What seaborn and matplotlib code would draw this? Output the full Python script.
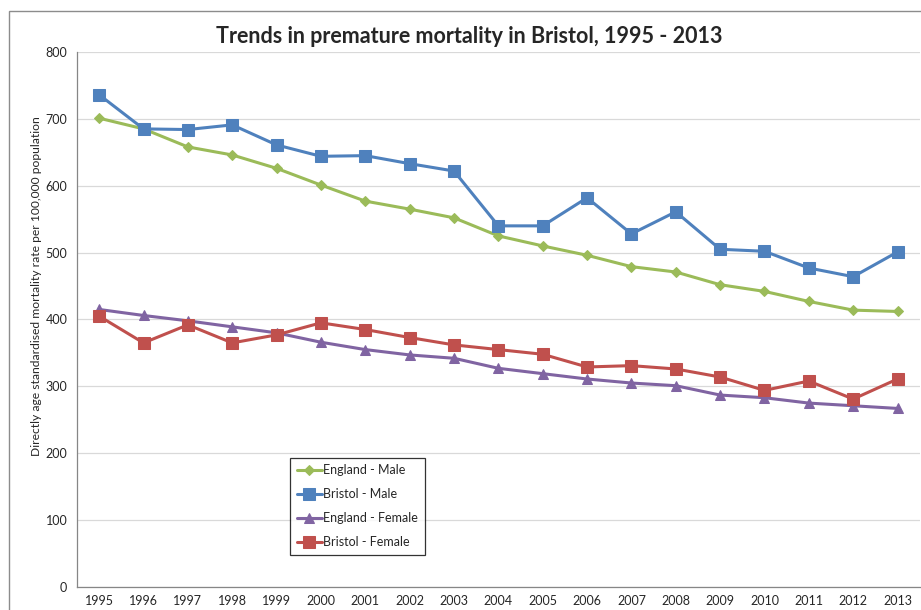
import matplotlib
matplotlib.use("Agg")
import matplotlib.pyplot as plt
import seaborn as sns
import pandas as pd
from matplotlib.patches import Rectangle

years = list(range(1995, 2014))
england_male = [701, 685, 658, 646, 626, 601, 577, 565, 552, 525,
                510, 496, 479, 471, 452, 442, 427, 414, 412]
bristol_male = [736, 685, 684, 691, 661, 644, 645, 633, 622, 540,
                540, 582, 528, 561, 505, 502, 477, 464, 501]
england_female = [415, 406, 398, 389, 380, 366, 355, 347, 342, 327,
                  319, 311, 305, 301, 287, 283, 275, 271, 267]
bristol_female = [405, 365, 392, 365, 377, 395, 385, 373, 362, 355,
                  348, 329, 331, 326, 314, 294, 308, 281, 311]
series_names = ["England - Male", "Bristol - Male", "England - Female", "Bristol - Female"]


def build_frame():
    rows = []
    for name, vals in zip(series_names,
                          [england_male, bristol_male, england_female, bristol_female]):
        for i, v in enumerate(vals):
            rows.append({"idx": i, "rate": v, "series": name})
    return pd.DataFrame(rows)


sns.set_style("white")
plt.rcParams["font.family"] = ["Lato", "DejaVu Sans"]

df = build_frame()
colors = {"England - Male": "#9BBB59", "Bristol - Male": "#4F81BD",
          "England - Female": "#8064A2", "Bristol - Female": "#C0504D"}
markers = {"England - Male": "D", "Bristol - Male": "s",
           "England - Female": "^", "Bristol - Female": "s"}
sizes = {"England - Male": 5.5, "Bristol - Male": 8, "England - Female": 7, "Bristol - Female": 8}

fig = plt.figure(figsize=(9.21, 6.1), dpi=100)
ax = fig.add_axes([0.0836, 0.0377, 0.915, 0.8771])

for name in series_names:
    sub = df[df["series"] == name]
    sns.lineplot(data=sub, x="idx", y="rate", ax=ax, color=colors[name],
                 marker=markers[name], markersize=sizes[name],
                 markeredgecolor=colors[name], linewidth=2.2, label=name)

ax.set_xlim(-0.5, 18.5)
ax.set_ylim(0, 800)
ax.set_yticks(range(0, 801, 100))
ax.set_xticks(range(len(years)))
ax.set_xticklabels([str(y) for y in years])
ax.set_xticks([i + 0.5 for i in range(-1, len(years))], minor=True)
ax.tick_params(axis="x", which="major", length=0, pad=6, labelsize=9)
ax.tick_params(axis="x", which="minor", length=4, color="#868686", width=0.8, direction="out")
ax.tick_params(axis="y", length=4, color="#868686", width=0.8, direction="out", labelsize=9, pad=3)
ax.yaxis.grid(True, color="#d9d9d9", linewidth=0.9)
ax.set_axisbelow(True)
for side in ("top", "right"):
    ax.spines[side].set_visible(False)
for side in ("left", "bottom"):
    ax.spines[side].set_color("#868686")
    ax.spines[side].set_linewidth(0.9)

ax.set_xlabel("")
ax.set_ylabel("Directly age standardised mortality rate per 100,000 population",
              fontsize=8.7)
ax.yaxis.set_label_coords(-0.042, 0.562)
fig.text(0.51, 0.94, "Trends in premature mortality in Bristol, 1995 - 2013",
         ha="center", va="center", fontsize=15.5, fontweight="bold")

leg = ax.legend(loc="lower left", bbox_to_anchor=(0.2527, 0.06), fontsize=9,
                frameon=True, fancybox=False, edgecolor="black",
                handlelength=2.0, handletextpad=0.1, labelspacing=0.95,
                borderpad=0.55, borderaxespad=0)
leg.get_frame().set_linewidth(0.9)

fig.patches.append(Rectangle((9 / 921, -0.1), 1.2, (610 - 11) / 610 + 0.1,
                             transform=fig.transFigure, fill=False,
                             edgecolor="#8c8c8c", linewidth=1.0))

plt.savefig("out.png", dpi=100)
